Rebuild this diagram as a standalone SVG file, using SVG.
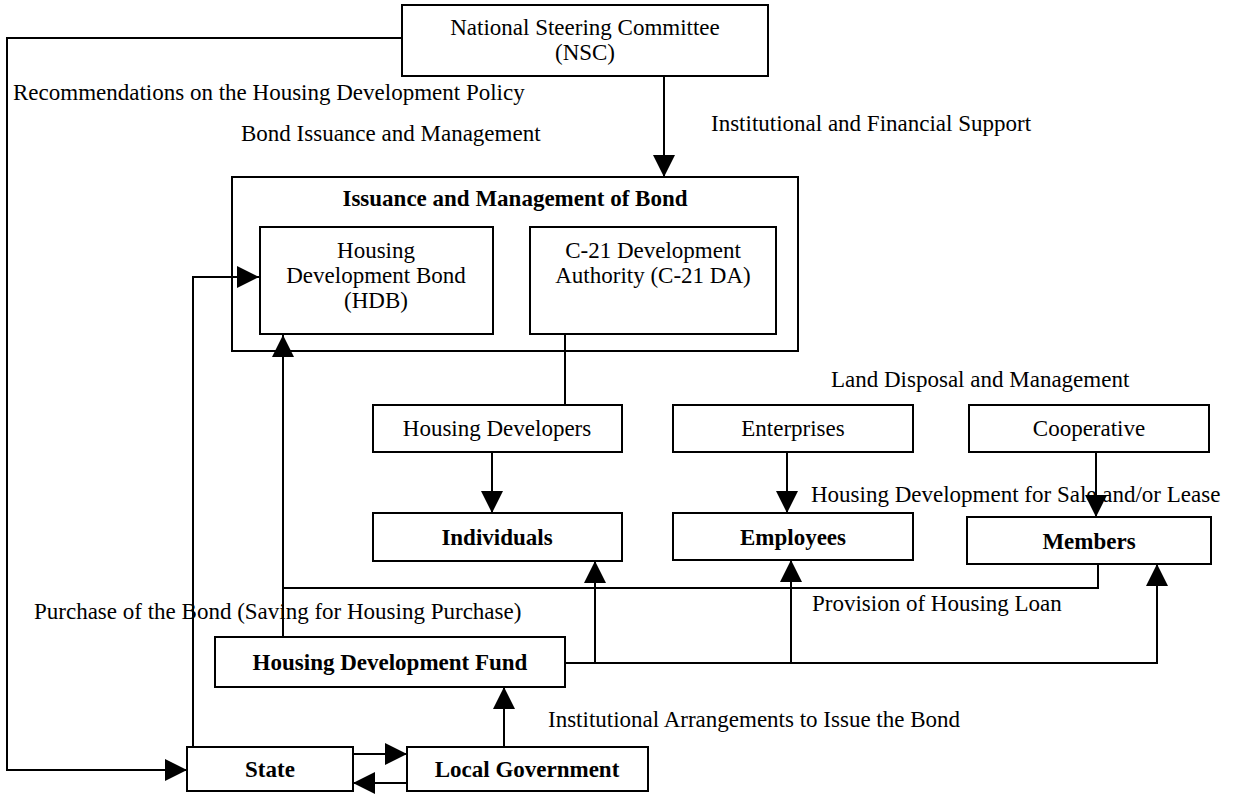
<svg xmlns="http://www.w3.org/2000/svg" width="1237" height="795" viewBox="0 0 1237 795">
<defs>
<style>
.box{fill:#fff;stroke:#000;stroke-width:2}
.t{font-family:"Liberation Serif","Times New Roman",serif;font-size:23px;fill:#000}
.c{text-anchor:middle}
.b{font-weight:bold}
.ln{fill:none;stroke:#000;stroke-width:2}
</style>
<marker id="ah" markerUnits="userSpaceOnUse" markerWidth="22" markerHeight="22" refX="20" refY="10" orient="auto" viewBox="0 0 20 20">
<path d="M0,0 L20,10 L0,20 Z" fill="#000"/>
</marker>
</defs>
<rect width="1237" height="795" fill="#fff"/>

<g id="outer-bond">
<rect class="box" x="232" y="177" width="566" height="174"/>
<text class="t c b" x="515" y="206">Issuance and Management of Bond</text>
</g>

<g id="connectors">
<path class="ln" d="M402,38 H7 V770 H187" marker-end="url(#ah)"/>
<path class="ln" d="M664,76 V177" marker-end="url(#ah)"/>
<path class="ln" d="M193,747 V277 H259" marker-end="url(#ah)"/>
<path class="ln" d="M283,637 V335" marker-end="url(#ah)"/>
<path class="ln" d="M1098,564 V588 H283"/>
<path class="ln" d="M565,334 V405"/>
<path class="ln" d="M492,452 V513" marker-end="url(#ah)"/>
<path class="ln" d="M787,452 V513" marker-end="url(#ah)"/>
<path class="ln" d="M1096,452 V517" marker-end="url(#ah)"/>
<path class="ln" d="M565,663 H1157 V564" marker-end="url(#ah)"/>
<path class="ln" d="M595,663 V561" marker-end="url(#ah)"/>
<path class="ln" d="M791,663 V560" marker-end="url(#ah)"/>
<path class="ln" d="M504,747 V687" marker-end="url(#ah)"/>
<path class="ln" d="M353,754 H407" marker-end="url(#ah)"/>
<path class="ln" d="M407,783 H353" marker-end="url(#ah)"/>
</g>

<g id="nsc">
<rect class="box" x="402" y="5" width="366" height="71"/>
<text class="t c" x="585" y="35">National Steering Committee</text>
<text class="t c" x="585" y="60">(NSC)</text>
</g>

<g id="hdb">
<rect class="box" x="260" y="227" width="233" height="107"/>
<text class="t c" x="376" y="258">Housing</text>
<text class="t c" x="376" y="283">Development Bond</text>
<text class="t c" x="376" y="308">(HDB)</text>
</g>

<g id="c21">
<rect class="box" x="530" y="227" width="246" height="107"/>
<text class="t c" x="653" y="258">C-21 Development</text>
<text class="t c" x="653" y="283">Authority (C-21 DA)</text>
</g>

<g id="housing-developers">
<rect class="box" x="373" y="405" width="249" height="47"/>
<text class="t c" x="497" y="436">Housing Developers</text>
</g>
<g id="enterprises">
<rect class="box" x="673" y="405" width="240" height="47"/>
<text class="t c" x="793" y="436">Enterprises</text>
</g>
<g id="cooperative">
<rect class="box" x="969" y="405" width="240" height="47"/>
<text class="t c" x="1089" y="436">Cooperative</text>
</g>

<g id="individuals">
<rect class="box" x="373" y="513" width="249" height="48"/>
<text class="t c b" x="497" y="545">Individuals</text>
</g>
<g id="employees">
<rect class="box" x="673" y="513" width="240" height="47"/>
<text class="t c b" x="793" y="545">Employees</text>
</g>
<g id="members">
<rect class="box" x="967" y="517" width="244" height="47"/>
<text class="t c b" x="1089" y="549">Members</text>
</g>

<g id="hdf">
<rect class="box" x="215" y="637" width="350" height="50"/>
<text class="t c b" x="390" y="670">Housing Development Fund</text>
</g>

<g id="state">
<rect class="box" x="187" y="747" width="166" height="44"/>
<text class="t c b" x="270" y="777">State</text>
</g>
<g id="local-government">
<rect class="box" x="407" y="747" width="241" height="44"/>
<text class="t c b" x="527" y="777">Local Government</text>
</g>

<g id="labels">
<text class="t" x="13" y="100">Recommendations on the Housing Development Policy</text>
<text class="t" x="241" y="141">Bond Issuance and Management</text>
<text class="t" x="711" y="131">Institutional and Financial Support</text>
<text class="t" x="831" y="387">Land Disposal and Management</text>
<text class="t" x="811" y="502">Housing Development for Sale and/or Lease</text>
<text class="t" x="34" y="619">Purchase of the Bond (Saving for Housing Purchase)</text>
<text class="t" x="812" y="611">Provision of Housing Loan</text>
<text class="t" x="548" y="727">Institutional Arrangements to Issue the Bond</text>
</g>
</svg>
